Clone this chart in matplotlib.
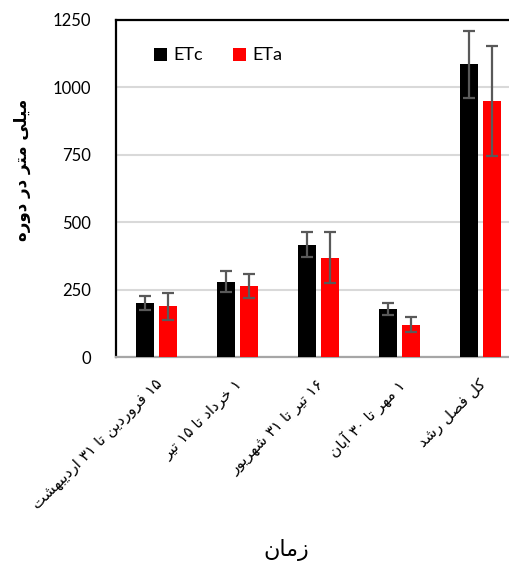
import re
import matplotlib
matplotlib.use("Agg")
import matplotlib.pyplot as plt
import matplotlib.transforms as mtransforms
import numpy as np

# ---------------- data ----------------
categories = ["۱۵ فروردین تا ۳۱ اردیبهشت", "۱ خرداد تا ۱۵ تیر", "۱۶ تیر تا ۳۱ شهریور",
              "۱ مهر تا ۳۰ آبان", "کل فصل رشد"]
etc_values = [200, 280, 416, 178, 1085]
etc_errors = [25, 38, 46, 21, 123]
eta_values = [188, 264, 368, 120, 950]
eta_errors = [50, 45, 95, 27, 205]
series_names = ["ETc", "ETa"]
y_ticks = [0, 250, 500, 750, 1000, 1250]
y_label = "میلی متر در دوره"
x_label = "زمان"

# ------------- simple Persian shaping (matplotlib has no text shaping) -------------
# (isolated, final, initial, medial)
FORMS = {
    "ا": ("\uFE8D", "\uFE8E", None, None),
    "آ": ("\uFE81", "\uFE82", None, None),
    "ب": ("\uFE8F", "\uFE90", "\uFE91", "\uFE92"),
    "ت": ("\uFE95", "\uFE96", "\uFE97", "\uFE98"),
    "خ": ("\uFEA5", "\uFEA6", "\uFEA7", "\uFEA8"),
    "د": ("\uFEA9", "\uFEAA", None, None),
    "ر": ("\uFEAD", "\uFEAE", None, None),
    "ز": ("\uFEAF", "\uFEB0", None, None),
    "ش": ("\uFEB5", "\uFEB6", "\uFEB7", "\uFEB8"),
    "ص": ("\uFEB9", "\uFEBA", "\uFEBB", "\uFEBC"),
    "ف": ("\uFED1", "\uFED2", "\uFED3", "\uFED4"),
    "ل": ("\uFEDD", "\uFEDE", "\uFEDF", "\uFEE0"),
    "م": ("\uFEE1", "\uFEE2", "\uFEE3", "\uFEE4"),
    "ن": ("\uFEE5", "\uFEE6", "\uFEE7", "\uFEE8"),
    "ه": ("\uFEE9", "\uFEEA", "\uFEEB", "\uFEEC"),
    "و": ("\uFEED", "\uFEEE", None, None),
    "ی": ("\uFEEF", "\uFEF0", "\uFEF3", "\uFEF4"),
    "ک": ("\uFB8E", "\uFB8F", "\uFB90", "\uFB91"),
}


def dual(c):
    return c in FORMS and FORMS[c][2] is not None


def shape(text):
    out = []
    n = len(text)
    for i, c in enumerate(text):
        if c not in FORMS:
            out.append(c)
            continue
        prev_join = i > 0 and dual(text[i - 1])
        next_join = dual(c) and i + 1 < n and text[i + 1] in FORMS
        iso, fin, ini, med = FORMS[c]
        if prev_join and next_join:
            out.append(med)
        elif prev_join:
            out.append(fin)
        elif next_join:
            out.append(ini)
        else:
            out.append(iso)
    shaped = "".join(out)
    tokens = re.findall(r"[۰-۹0-9]+|.", shaped)
    return "".join(reversed(tokens))


# ---------------- figure ----------------
plt.rcParams["font.family"] = ["Lato", "DejaVu Sans"]
fig = plt.figure(figsize=(5.10, 5.62), dpi=100)
ax = fig.add_axes([116 / 510, 205 / 562, 405 / 510, 337 / 562])

x = np.arange(len(categories))
bw = 0.228
off = 0.145
err_kw = dict(ecolor="#595959", elinewidth=1.6, capsize=4, capthick=1.6)
ax.bar(x - off, etc_values, bw, yerr=etc_errors, color="#000000", label=series_names[0],
       error_kw=err_kw, zorder=3)
ax.bar(x + off, eta_values, bw, yerr=eta_errors, color="#ff0000", label=series_names[1],
       error_kw=err_kw, zorder=3)

ax.set_xlim(-0.5, len(categories) - 0.5)
ax.set_ylim(0, 1250)
ax.set_yticks(y_ticks)
ax.set_yticklabels([str(v) for v in y_ticks], fontsize=12)
ax.tick_params(axis="y", length=0, pad=18)
ax.tick_params(axis="x", length=0)
ax.set_xticks([])
ax.grid(axis="y", color="#d9d9d9", linewidth=1.5, zorder=0)
ax.set_axisbelow(True)

for s in ["left", "top"]:
    ax.spines[s].set_color("black")
    ax.spines[s].set_linewidth(1.6)
ax.spines["bottom"].set_color("#a6a6a6")
ax.spines["bottom"].set_linewidth(1.6)
ax.spines["right"].set_visible(False)

# x category labels
trans = mtransforms.blended_transform_factory(ax.transData, ax.transAxes)
for xi, lab in zip(x, categories):
    t = trans + mtransforms.ScaledTranslation(3 / 100, -25 / 100, fig.dpi_scale_trans)
    ax.text(xi, 0, shape(lab), transform=t, rotation=45, ha="right", va="center",
            rotation_mode="anchor", fontsize=11, family="DejaVu Sans")

fig.text(22 / 510, 1 - 170 / 562, shape(y_label), rotation=90, ha="center", va="center",
         fontsize=12, fontweight="bold", family="DejaVu Sans")
fig.text(286 / 510, 1 - 550 / 562, shape(x_label), ha="center", va="center",
         fontsize=16, family="DejaVu Sans")

leg = ax.legend(loc="upper left", bbox_to_anchor=(0.075, 0.94), ncol=2, frameon=False,
                fontsize=13, handlelength=0.75, handleheight=0.75, handletextpad=0.35,
                columnspacing=1.65, borderaxespad=0)

fig.savefig("out.png", dpi=100)
